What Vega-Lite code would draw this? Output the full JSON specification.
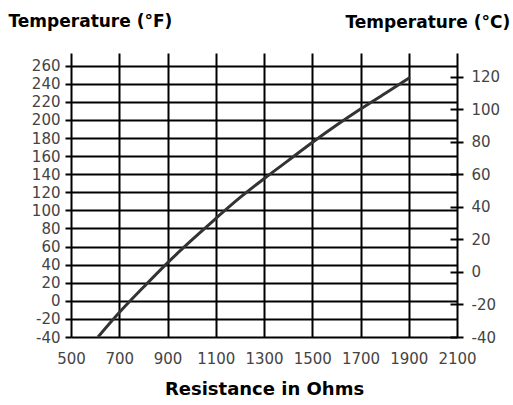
{
  "$schema": "https://vega.github.io/schema/vega-lite/v6.json",
  "width": 386,
  "height": 284,
  "autosize": {"type": "none"},
  "padding": {"left": 71, "top": 53, "right": 56, "bottom": 68},
  "background": "white",
  "config": {"view": {"stroke": null}},
  "data": {"values": [
    {"ohms": 612, "tempF": -40},
    {"ohms": 700, "tempF": -13},
    {"ohms": 800, "tempF": 15},
    {"ohms": 900, "tempF": 42},
    {"ohms": 1000, "tempF": 67},
    {"ohms": 1100, "tempF": 91},
    {"ohms": 1200, "tempF": 114},
    {"ohms": 1300, "tempF": 135},
    {"ohms": 1400, "tempF": 155},
    {"ohms": 1500, "tempF": 175},
    {"ohms": 1600, "tempF": 194},
    {"ohms": 1700, "tempF": 212},
    {"ohms": 1800, "tempF": 229},
    {"ohms": 1905, "tempF": 247}
  ]},
  "resolve": {"axis": {"y": "independent"}},
  "layer": [
    {
      "mark": {"type": "line", "color": "#333333", "strokeWidth": 3, "interpolate": "monotone"},
      "encoding": {
        "x": {
          "field": "ohms", "type": "quantitative",
          "scale": {"domain": [500, 2100], "nice": false, "zero": false},
          "axis": {
            "values": [500, 700, 900, 1100, 1300, 1500, 1700, 1900, 2100],
            "format": "d",
            "title": "Resistance in Ohms",
            "titleFont": "DejaVu Sans", "titleFontWeight": "bold", "titleFontSize": 18, "titleColor": "#000000",
            "titlePadding": 14,
            "labelFont": "DejaVu Sans", "labelFontSize": 15, "labelColor": "#444444", "labelPadding": 14,
            "ticks": false, "domain": false,
            "grid": true, "gridColor": "#000000", "gridWidth": 2, "gridOpacity": 1,
            "labelFlush": false, "labelOverlap": false
          }
        },
        "y": {
          "field": "tempF", "type": "quantitative",
          "scale": {"domain": [-40, 274], "nice": false, "zero": false},
          "axis": {
            "orient": "left",
            "values": [-40, -20, 0, 20, 40, 60, 80, 100, 120, 140, 160, 180, 200, 220, 240, 260],
            "labelExpr": "'' + datum.value",
            "title": "Temperature (°F)",
            "titleAngle": 0, "titleX": -63, "titleY": -32, "titleAlign": "left", "titleBaseline": "middle",
            "titleFont": "DejaVu Sans", "titleFontWeight": "bold", "titleFontSize": 17, "titleColor": "#000000",
            "labelFont": "DejaVu Sans", "labelFontSize": 15, "labelColor": "#444444", "labelPadding": 5,
            "ticks": true, "tickSize": 6, "tickWidth": 2, "tickColor": "#000000",
            "domain": false,
            "grid": true, "gridColor": "#000000", "gridWidth": 2, "gridOpacity": 1,
            "labelOverlap": false, "labelFlush": false
          }
        }
      }
    },
    {
      "mark": {"type": "line", "strokeOpacity": 0},
      "encoding": {
        "x": {"field": "ohms", "type": "quantitative"},
        "y": {
          "field": "tempF", "type": "quantitative",
          "axis": {
            "orient": "right",
            "offset": -7,
            "values": [-40, -4, 32, 68, 104, 140, 176, 212, 248],
            "labelExpr": "'' + round((datum.value - 32) * 5 / 9)",
            "title": "Temperature (°C)",
            "titleAngle": 0, "titleX": -105, "titleY": -31, "titleAlign": "left", "titleBaseline": "middle",
            "titleFont": "DejaVu Sans", "titleFontWeight": "bold", "titleFontSize": 17, "titleColor": "#000000",
            "labelFont": "DejaVu Sans", "labelFontSize": 15, "labelColor": "#444444", "labelPadding": 8,
            "ticks": true, "tickSize": 13, "tickWidth": 2, "tickColor": "#000000",
            "domain": false, "grid": false,
            "labelOverlap": false, "labelFlush": false
          }
        }
      }
    }
  ]
}
